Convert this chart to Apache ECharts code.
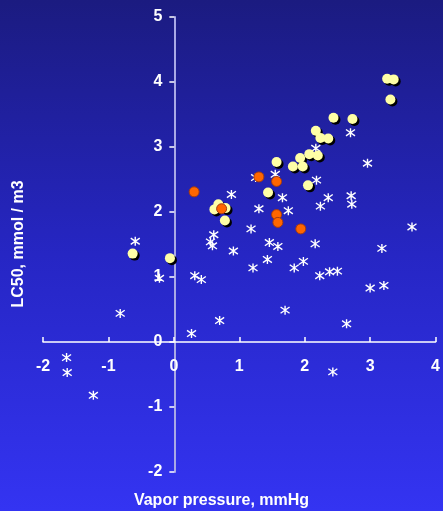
<!DOCTYPE html>
<html>
<head>
<meta charset="utf-8">
<script src="https://cdn.jsdelivr.net/npm/echarts@6/dist/echarts.min.js"></script>
<style>
html,body{margin:0;padding:0;}
#c{width:443px;height:511px;}
</style>
</head>
<body>
<div id="c"></div>
<script>
// Tick labels
const xTicks = [-2, -1, 0, 1, 2, 3, 4];
const yTicks = [-2, -1, 0, 1, 2, 3, 4, 5];
const xTitle = 'Vapor pressure, mmHg';
const yTitle = 'LC50, mmol / m3';

// Series: white asterisks
const starX = [2.70, 2.17, 2.96, 1.25, 1.55, 2.18, 0.88, 1.66, 2.36, 2.71, 2.24, 2.72, 1.30, 1.75, 3.64, 1.18, 0.61, 0.56, 0.59, -0.59, 1.46, 1.59, 2.16, 0.91, 3.18, 1.43, 1.98, 1.21, 1.84, 2.38, 2.50, 2.23, 0.32, 0.42, -0.22, 3.00, 3.21, -0.82, 1.70, 0.70, 2.64, 0.27, -1.64, -1.63, -1.23, 2.43];
const starY = [3.22, 2.98, 2.75, 2.53, 2.58, 2.49, 2.27, 2.22, 2.22, 2.25, 2.09, 2.12, 2.05, 2.02, 1.77, 1.74, 1.65, 1.54, 1.48, 1.55, 1.53, 1.47, 1.51, 1.40, 1.44, 1.27, 1.24, 1.14, 1.14, 1.08, 1.09, 1.02, 1.02, 0.96, 0.98, 0.83, 0.87, 0.44, 0.49, 0.33, 0.28, 0.13, -0.24, -0.47, -0.82, -0.46];

// Series: yellow circles
const yelX = [-0.63, -0.06, 0.62, 0.68, 0.79, 0.78, 1.44, 1.57, 1.82, 1.97, 1.93, 2.05, 2.07, 2.20, 2.17, 2.24, 2.36, 2.44, 2.73, 3.26, 3.36, 3.31];
const yelY = [1.36, 1.29, 2.04, 2.12, 2.06, 1.87, 2.30, 2.77, 2.70, 2.70, 2.83, 2.41, 2.89, 2.87, 3.25, 3.14, 3.13, 3.45, 3.43, 4.05, 4.04, 3.73];

// Series: orange circles
const orX = [0.31, 0.73, 1.30, 1.57, 1.57, 1.59, 1.94];
const orY = [2.31, 2.05, 2.54, 2.47, 1.96, 1.84, 1.74];

const zip = (a, b) => a.map((v, i) => [v, b[i]]);

const chart = echarts.init(document.getElementById('c'), null, {renderer: 'canvas'});
const font = '"Liberation Sans", Arial, sans-serif';

// grid geometry (layout only)
const G = {left: 43, right: 6, top: 17, bottom: 39};
const plotW = 443 - G.left - G.right;
const plotH = 511 - G.top - G.bottom;
const xRange = xTicks[xTicks.length - 1] - xTicks[0];
const yRange = yTicks[yTicks.length - 1] - yTicks[0];
// offsets so that the axes (with their labels) sit at the zero crossing
const xAxisOffset = -plotH * (0 - yTicks[0]) / yRange;
const yAxisOffset = -plotW * (0 - xTicks[0]) / xRange;

chart.setOption({
  backgroundColor: {
    type: 'linear', x: 0, y: 0, x2: 0, y2: 1,
    colorStops: [{offset: 0, color: '#1b1b80'}, {offset: 0.5, color: '#2626c4'}, {offset: 1, color: '#3434f2'}]
  },
  animation: false,
  grid: {left: G.left, right: G.right, top: G.top, bottom: G.bottom, containLabel: false},
  xAxis: {
    type: 'value', min: xTicks[0], max: xTicks[xTicks.length - 1], interval: 1,
    position: 'bottom', offset: xAxisOffset,
    splitLine: {show: false},
    axisLine: {onZero: false, lineStyle: {color: '#ffffff', width: 1.5}},
    axisTick: {inside: true, length: 5, lineStyle: {color: '#ffffff', width: 1.5}},
    axisLabel: {color: '#ffffff', fontWeight: 'bold', fontSize: 16, fontFamily: font, margin: 17}
  },
  yAxis: {
    type: 'value', min: yTicks[0], max: yTicks[yTicks.length - 1], interval: 1,
    position: 'left', offset: yAxisOffset,
    splitLine: {show: false},
    axisLine: {onZero: false, lineStyle: {color: '#a9a9e6', width: 2}},
    axisTick: {inside: false, length: 5, lineStyle: {color: '#ffffff', width: 1.5}},
    axisLabel: {color: '#ffffff', fontWeight: 'bold', fontSize: 16, fontFamily: font, margin: 12}
  },
  graphic: [
    {type: 'text', left: 'center', top: 493, style: {text: xTitle, fill: '#ffffff', font: 'bold 16px ' + font}},
    {type: 'text', x: 19, y: 244, rotation: Math.PI / 2, style: {text: yTitle, fill: '#ffffff', font: 'bold 16px ' + font, align: 'center', verticalAlign: 'middle'}}
  ],
  series: [
    {
      type: 'scatter', data: zip(starX, starY),
      symbol: 'path://M0,-10 L0,10 M-7,-7 L7,7 M-7,7 L7,-7',
      symbolSize: [9, 9],
      itemStyle: {color: 'none', borderColor: '#ffffff', borderWidth: 1.4, opacity: 1}
    },
    {
      // drop shadow of the yellow circles
      type: 'scatter', data: zip(yelX, yelY),
      symbol: 'circle', symbolSize: 10, symbolOffset: [2, 2],
      itemStyle: {color: '#000000', opacity: 1}
    },
    {
      type: 'scatter', data: zip(yelX, yelY),
      symbol: 'circle', symbolSize: 10,
      itemStyle: {color: '#ffffa6', opacity: 1}
    },
    {
      type: 'scatter', data: zip(orX, orY),
      symbol: 'circle', symbolSize: 10,
      itemStyle: {color: '#ff6600', borderColor: '#a33a10', borderWidth: 1, opacity: 1}
    }
  ]
});
</script>
</body>
</html>
